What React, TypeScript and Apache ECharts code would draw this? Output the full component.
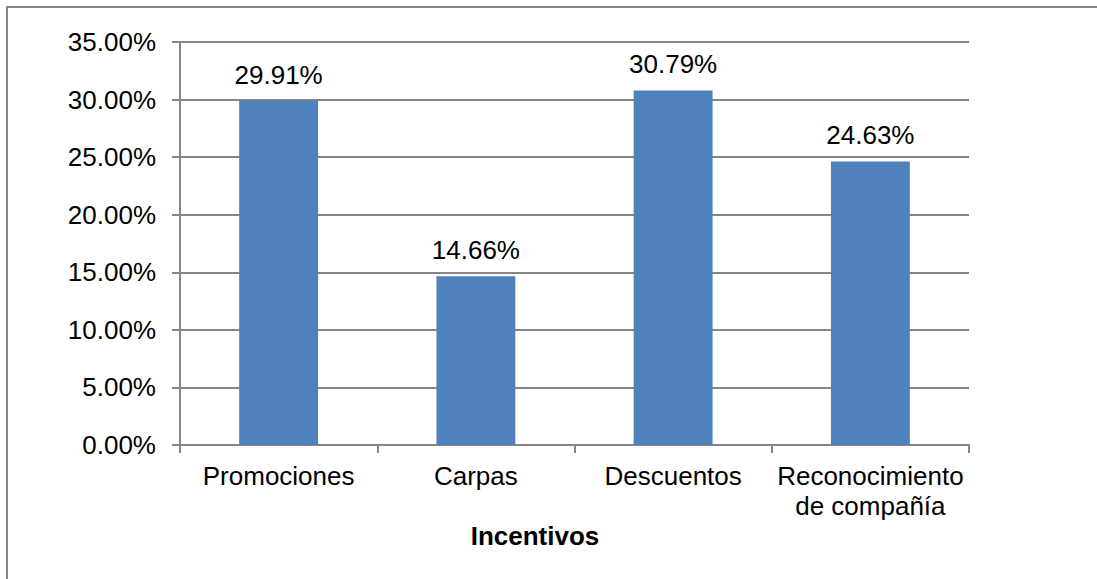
import React, { useEffect, useRef } from "react";
import * as echarts from "echarts";

const categories = ["Promociones", "Carpas", "Descuentos", "Reconocimiento\nde compañía"];
const values = [29.91, 14.66, 30.79, 24.63];
const axisTitle = "Incentivos";
const yMin = 0;
const yMax = 35;
const yInterval = 5;

export default function App() {
  const ref = useRef<HTMLDivElement>(null);
  useEffect(() => {
    if (!ref.current) return;
    const chart = echarts.init(ref.current, null, { renderer: "svg" });
    const font = "'Liberation Sans', Arial, sans-serif";
    chart.setOption({
      animation: false,
      backgroundColor: "#ffffff",
      textStyle: { fontFamily: font },
      grid: { left: 180, top: 42, width: 789, height: 403, containLabel: false },
      xAxis: {
        type: "category",
        data: categories,
        axisLine: { show: true, lineStyle: { color: "#868686", width: 2 } },
        axisTick: { show: true, alignWithLabel: false, length: 8, lineStyle: { color: "#868686", width: 2 } },
        axisLabel: { color: "#000", fontSize: 26, fontFamily: font, margin: 16, lineHeight: 30, interval: 0 },
        splitLine: { show: false },
      },
      yAxis: {
        type: "value",
        min: yMin,
        max: yMax,
        interval: yInterval,
        axisLine: { show: true, lineStyle: { color: "#868686", width: 2 } },
        axisTick: { show: true, length: 8, lineStyle: { color: "#868686", width: 2 } },
        axisLabel: {
          color: "#000",
          fontSize: 26,
          fontFamily: font,
          margin: 24,
          formatter: (v: number) => v.toFixed(2) + "%",
        },
        splitLine: { show: true, lineStyle: { color: "#868686", width: 2 } },
      },
      series: [
        {
          type: "bar",
          data: values,
          barWidth: "40%",
          itemStyle: { color: "#4F81BD" },
          label: {
            show: true,
            position: "top",
            distance: 13,
            color: "#000",
            fontSize: 26,
            fontFamily: font,
            formatter: (p: any) => Number(p.value).toFixed(2) + "%",
          },
        },
      ],
      graphic: [
        {
          type: "rect",
          shape: { x: 7, y: 7, width: 1200, height: 800 },
          style: { fill: "none", stroke: "#868686", lineWidth: 2 },
          silent: true,
          z: 100,
        },
        {
          type: "text",
          x: 535,
          y: 549,
          style: {
            text: axisTitle,
            fill: "#000",
            font: `bold 26px ${font}`,
            textAlign: "center",
            textVerticalAlign: "bottom",
          },
        },
      ],
    });
    return () => chart.dispose();
  }, []);
  return (
    <div
      ref={ref}
      style={{ position: "absolute", left: 0, top: 0, width: 1097, height: 579 }}
    />
  );
}
